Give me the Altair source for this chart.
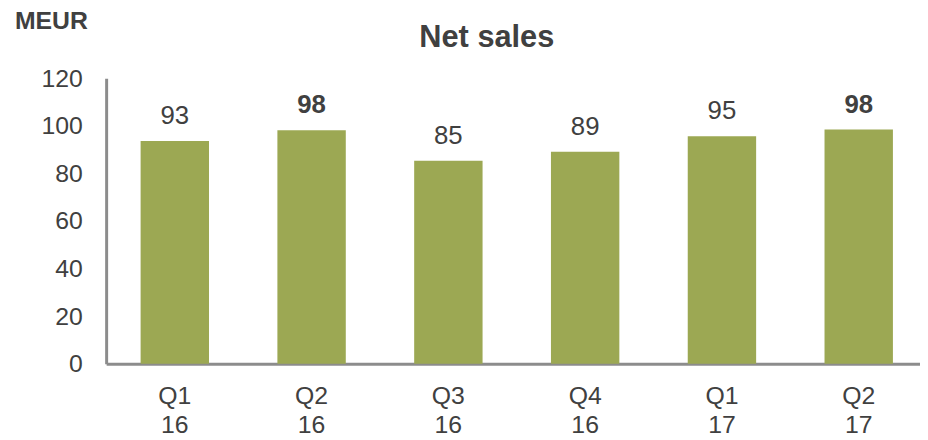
import altair as alt
import pandas as pd

quarters = ["Q1 16", "Q2 16", "Q3 16", "Q4 16", "Q1 17", "Q2 17"]
net_sales = [93.6, 98.2, 85.3, 89.1, 95.6, 98.5]
value_labels = ["93", "98", "85", "89", "95", "98"]
y_ticks = [0, 20, 40, 60, 80, 100, 120]

df = pd.DataFrame({"quarter": quarters, "sales": net_sales, "label": value_labels})

FONT = "Liberation Sans"
TEXT = "#404040"
GREEN = "#9CA853"
AXIS = "#8C8C8C"

x_enc = alt.X(
    "quarter:N",
    sort=quarters,
    scale=alt.Scale(paddingInner=0.5, paddingOuter=0.225, align=0.56),
    axis=alt.Axis(
        title=None,
        labelAngle=0,
        labelExpr="split(datum.value, ' ')",
        labelFontSize=25,
        labelLineHeight=29,
        labelPadding=20,
        labelColor=TEXT,
        labelFont=FONT,
        ticks=False,
        tickSize=0,
        grid=False,
        domainColor=AXIS,
        domainWidth=3,
    ),
)
y_enc = alt.Y(
    "sales:Q",
    scale=alt.Scale(domain=[0, 120], nice=False, zero=True),
    axis=alt.Axis(
        title=None,
        values=y_ticks,
        grid=False,
        ticks=False,
        tickSize=0,
        labelFontSize=25,
        labelPadding=24,
        labelColor=TEXT,
        labelFont=FONT,
        domainColor=AXIS,
        domainWidth=3,
    ),
)

base = alt.Chart(df)

bars = base.mark_bar(color=GREEN).encode(x=x_enc, y=y_enc)

is_q2 = "indexof(datum.quarter, 'Q2') === 0"

labels_normal = base.transform_filter("!(" + is_q2 + ")").mark_text(
    fontSize=26, font=FONT, color=TEXT, baseline="alphabetic", dy=-17
).encode(x=x_enc, y=y_enc, text="label:N")

labels_bold = base.transform_filter(is_q2).mark_text(
    fontSize=26, font=FONT, color=TEXT, baseline="alphabetic", dy=-17, fontWeight="bold"
).encode(x=x_enc, y=y_enc, text="label:N")

title_df = pd.DataFrame({"t": ["Net sales"]})
title_mark = alt.Chart(title_df).mark_text(
    fontSize=31, font=FONT, fontWeight="bold", color=TEXT, align="center", baseline="alphabetic"
).encode(text="t:N", x=alt.value(384), y=alt.value(-32))

unit_df = pd.DataFrame({"u": ["MEUR"]})
unit_mark = alt.Chart(unit_df).mark_text(
    fontSize=25, font=FONT, fontWeight="bold", color=TEXT, align="left", baseline="alphabetic"
).encode(text="u:N", x=alt.value(-92), y=alt.value(-50))

chart = (
    alt.layer(bars, labels_normal, labels_bold, title_mark, unit_mark)
    .properties(
        width=821,
        height=288,
        background="white",
        autosize=alt.AutoSizeParams(type="none"),
        padding={"left": 99, "top": 69, "right": 0, "bottom": 72},
    )
    .configure_view(strokeWidth=0, stroke=None)
    .configure_axis(grid=False)
)

chart.save("out.html", embed_options={"renderer": "svg", "actions": False})
